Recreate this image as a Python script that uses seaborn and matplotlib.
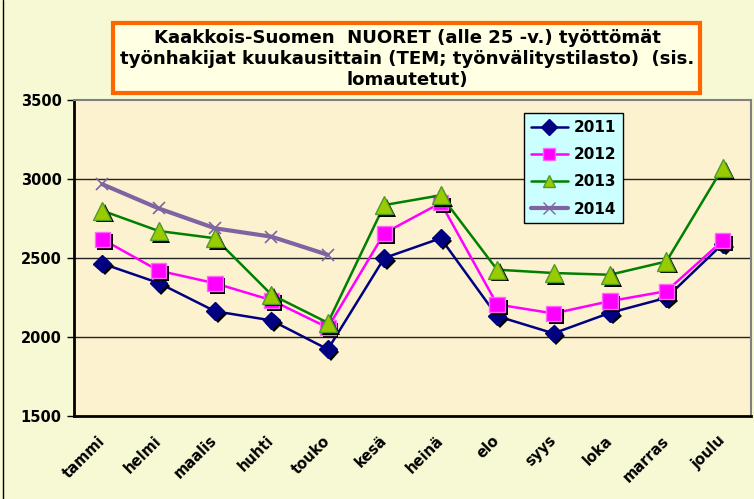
import numpy as np
import pandas as pd
import matplotlib
matplotlib.use("Agg")
import matplotlib.pyplot as plt
import matplotlib.patheffects as pe
from matplotlib.patches import Rectangle
from matplotlib.lines import Line2D
import seaborn as sns

# Monthly data (young jobseekers, Kaakkois-Suomi)
months = ["tammi", "helmi", "maalis", "huhti", "touko", "kesä",
          "heinä", "elo", "syys", "loka", "marras", "joulu"]
y2011 = [2465, 2342, 2163, 2105, 1922, 2500, 2625, 2132, 2023, 2153, 2248, 2590]
y2012 = [2619, 2420, 2340, 2233, 2059, 2657, 2849, 2206, 2149, 2227, 2290, 2610]
y2013 = [2800, 2671, 2625, 2268, 2090, 2835, 2897, 2426, 2405, 2394, 2478, 3071]
y2014 = [2967, 2814, 2688, 2635, 2520]

title = ("Kaakkois-Suomen  NUORET (alle 25 -v.) työttömät\n"
         "työnhakijat kuukausittain (TEM; työnvälitystilasto)  (sis.\n"
         "lomautetut)")

sns.set_style("white")
plt.rcParams['font.family'] = ['DejaVu Sans']
plt.rcParams['text.color'] = 'black'
plt.rcParams['xtick.color'] = 'black'
plt.rcParams['ytick.color'] = 'black'

fig = plt.figure(figsize=(7.54, 4.99), dpi=100)
fig.patch.set_facecolor("#F6F9D3")
ax = fig.add_axes([74 / 754, 83 / 499, 677 / 754, 316 / 499])
ax.set_facecolor("#FDF2D0")

series = [
    ("2011", y2011, "#000080", "D", "#000080", "#000080", 9, 1.8),
    ("2012", y2012, "#FF00FF", "s", "#FF00FF", "#FF66FF", 11, 1.8),
    ("2013", y2013, "#008000", "^", "#99CC00", "#4E9A2A", 13, 1.8),
    ("2014", y2014, "#8064A2", "x", "#8064A2", "#8064A2", 9, 3.0),
]

shadow = [pe.SimplePatchShadow(offset=(2, -2), shadow_rgbFace="black", alpha=1.0), pe.Normal()]
handles = []
for i, (name, vals, lc, mk, fc, ec, ms, lw) in enumerate(series):
    df = pd.DataFrame({"x": np.arange(len(vals)), "y": vals})
    sns.lineplot(data=df, x="x", y="y", color=lc, linewidth=lw, ax=ax,
                 sort=False, zorder=3 + i * 2)
    if mk == "x":
        ax.plot(df["x"], df["y"], linestyle="none", marker="x", markersize=ms,
                markeredgecolor=ec, markeredgewidth=1.2, zorder=4 + i * 2)
    else:
        ax.plot(df["x"], df["y"], linestyle="none", marker=mk, markersize=ms,
                markerfacecolor=fc, markeredgecolor=ec, markeredgewidth=1.0,
                zorder=4 + i * 2, path_effects=shadow)
    handles.append(Line2D([], [], color=lc, linewidth=lw if name != "2014" else 3,
                          marker=mk, markersize=8 if mk != "x" else 9,
                          markerfacecolor=fc, markeredgecolor=ec, label=name))

ax.set_xlim(-0.5, 11.5)
ax.set_ylim(1500, 3500)
ax.set_yticks([1500, 2000, 2500, 3000, 3500])
ax.set_yticklabels(["1500", "2000", "2500", "3000", "3500"], fontsize=10.5, fontweight="bold")
ax.set_xticks(np.arange(12))
ax.set_xticklabels(months, rotation=45, ha="right", va="center",
                   rotation_mode="anchor", fontsize=10.5, fontweight="bold")
ax.set_xticks(np.arange(-0.5, 12, 1), minor=True)
ax.tick_params(axis="x", which="major", length=0, pad=16)
ax.tick_params(axis="x", which="minor", length=5, width=1, color="black", direction="out")
ax.tick_params(axis="y", length=5, width=1, color="black", direction="out", pad=4, left=True)
ax.set_xlabel("")
ax.set_ylabel("")
for y in [2000, 2500, 3000]:
    ax.axhline(y, color="#222222", linewidth=1, zorder=1)
for side in ["top", "right"]:
    ax.spines[side].set_color("#808080")
    ax.spines[side].set_linewidth(1.5)
ax.spines["left"].set_color("black")
ax.spines["left"].set_linewidth(2)
ax.spines["bottom"].set_color("black")
ax.spines["bottom"].set_linewidth(2)

leg = ax.legend(handles=handles, loc="upper left", bbox_to_anchor=(450 / 677, 1 - 13 / 316),
                borderaxespad=0, frameon=True, fancybox=False, facecolor="#CCFFFF",
                edgecolor="black", framealpha=1, prop={"weight": "bold", "size": 11},
                handlelength=2.4, labelspacing=0.8, borderpad=0.45, handletextpad=0.4)
leg.get_frame().set_linewidth(1)
leg.set_zorder(20)

# title box
fig.patches.append(Rectangle((113 / 754, (499 - 93) / 499), 587 / 754, 70 / 499,
                             transform=fig.transFigure, facecolor="#FFFFE3",
                             edgecolor="#FF6600", linewidth=3, zorder=5))
fig.text(407 / 754, (499 - 59) / 499, title, ha="center", va="center",
         fontsize=13.1, fontweight="bold", linespacing=1.22, zorder=6)

# left border line
fig.add_artist(Line2D([0.004, 0.004], [0, 1], transform=fig.transFigure,
                      color="black", linewidth=1))

fig.savefig("out.png", dpi=100, facecolor=fig.get_facecolor())
